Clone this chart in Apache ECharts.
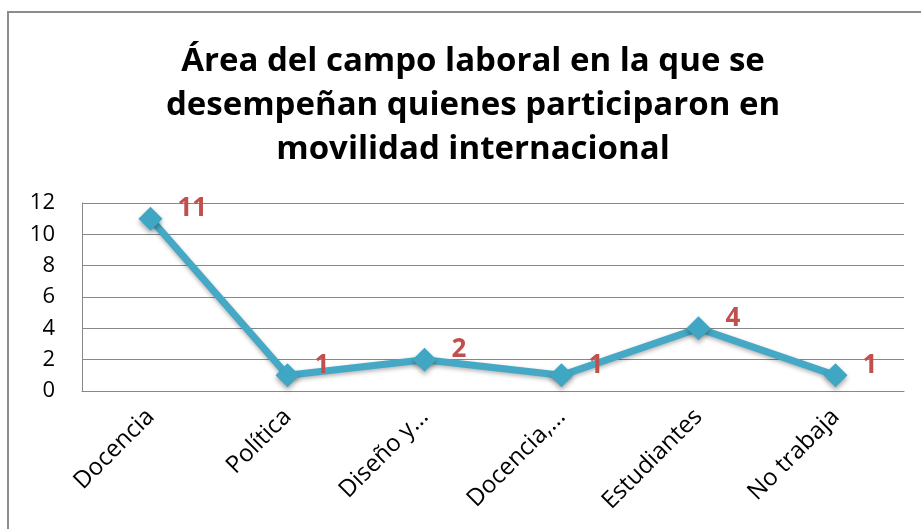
<!doctype html>
<html>
<head>
<meta charset="UTF-8">
<title>Área del campo laboral</title>
<script src="https://cdn.jsdelivr.net/npm/echarts@6/dist/echarts.min.js"></script>
<style>
  html, body { margin: 0; padding: 0; background: #fff; }
  #main { width: 921px; height: 529px; }
</style>
</head>
<body>
<div id="main"></div>
<script>
// datos del gráfico
var titulo = 'Área del campo laboral en la que se\ndesempeñan quienes participaron en\nmovilidad internacional';
var categorias = ['Docencia', 'Política', 'Diseño y...', 'Docencia,...', 'Estudiantes', 'No trabaja'];
var valores = [11, 1, 2, 1, 4, 1];

var chart = echarts.init(document.getElementById('main'));

var option = {
  backgroundColor: '#fff',
  animation: false,
  graphic: [{
    type: 'rect',
    shape: { x: 8, y: 12, width: 940, height: 540 },
    style: { fill: 'none', stroke: '#8c8c8c', lineWidth: 2 }
  }],
  title: {
    text: titulo,
    left: 468,
    top: 35,
    textAlign: 'center',
    textStyle: {
      fontFamily: 'Open Sans',
      fontWeight: 'bold',
      fontSize: 33,
      lineHeight: 44,
      color: '#000'
    }
  },
  grid: { left: 82, right: 17, top: 203, bottom: 138 },
  xAxis: {
    type: 'category',
    data: categorias,
    boundaryGap: true,
    axisLine: { show: true, lineStyle: { color: '#888', width: 1 } },
    axisTick: { show: false },
    axisLabel: {
      rotate: 45,
      margin: 22,
      interval: 0,
      fontFamily: 'Open Sans',
      fontSize: 24,
      color: '#000'
    }
  },
  yAxis: {
    type: 'value',
    min: 0,
    max: 12,
    interval: 2,
    axisLine: { show: true, lineStyle: { color: '#888', width: 1 } },
    axisTick: { show: false },
    splitLine: { lineStyle: { color: '#888', width: 1 } },
    axisLabel: {
      margin: 27,
      fontFamily: 'Open Sans',
      fontSize: 22,
      color: '#000'
    }
  },
  series: [{
    type: 'line',
    data: valores,
    symbol: 'diamond',
    symbolSize: 24,
    lineStyle: {
      color: '#45a9c6',
      width: 7,
      shadowColor: 'rgba(0,0,0,0.3)',
      shadowBlur: 4,
      shadowOffsetY: 2
    },
    itemStyle: {
      color: '#3fa6c4',
      shadowColor: 'rgba(0,0,0,0.35)',
      shadowBlur: 5,
      shadowOffsetY: 3
    },
    label: {
      show: true,
      position: 'right',
      offset: [10, -10],
      fontFamily: 'Open Sans',
      fontWeight: 'bold',
      fontSize: 26,
      color: '#c0504d'
    }
  }]
};

chart.setOption(option);
</script>
</body>
</html>
